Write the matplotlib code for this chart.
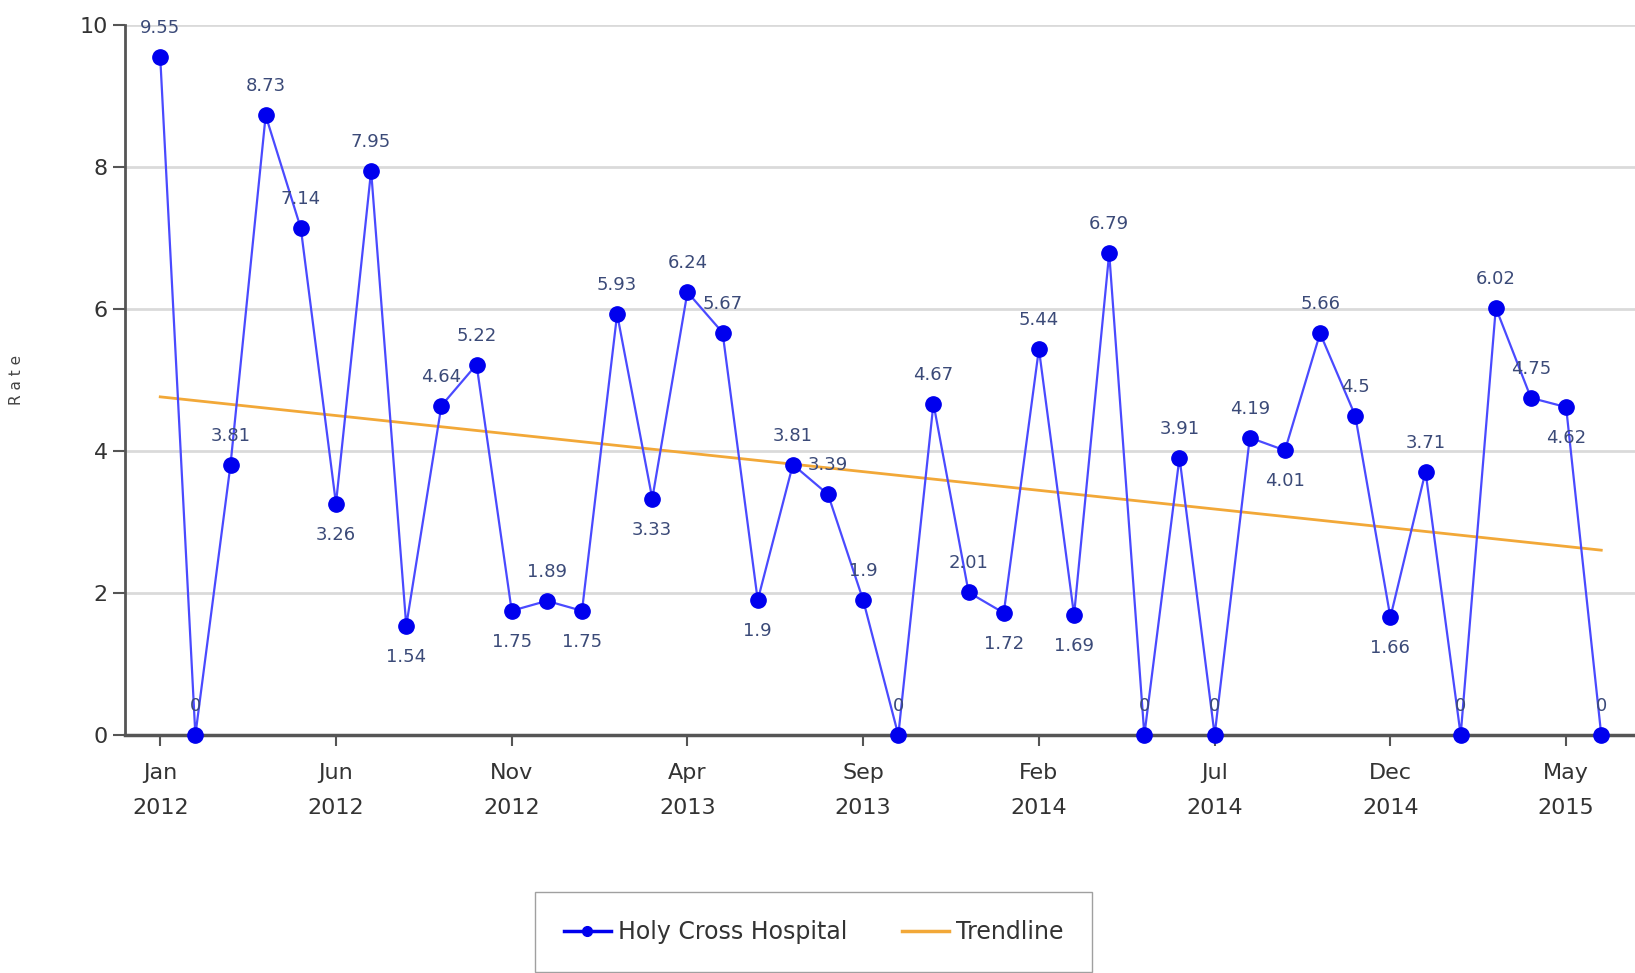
import numpy as np
import matplotlib.pyplot as plt
from matplotlib.lines import Line2D

# monthly rates, Jan 2012 - Jun 2015
rates = [9.55, 0, 3.81, 8.73, 7.14, 3.26, 7.95, 1.54, 4.64, 5.22,
         1.75, 1.89, 1.75, 5.93, 3.33, 6.24, 5.67, 1.9, 3.81, 3.39,
         1.9, 0, 4.67, 2.01, 1.72, 5.44, 1.69, 6.79, 0, 3.91,
         0, 4.19, 4.01, 5.66, 4.5, 1.66, 3.71, 0, 6.02, 4.75,
         4.62, 0]
# data labels drawn under the point
below = [5, 7, 10, 12, 14, 17, 24, 26, 32, 35, 40]
tick_pos = [0, 5, 10, 15, 20, 25, 30, 35, 40]
tick_labels = ['Jan\n2012', 'Jun\n2012', 'Nov\n2012', 'Apr\n2013', 'Sep\n2013',
               'Feb\n2014', 'Jul\n2014', 'Dec\n2014', 'May\n2015']

x = np.arange(len(rates))
y = np.array(rates)
slope, icept = np.polyfit(x, y, 1)
trend = slope * x + icept

fig = plt.figure(figsize=(16.35, 9.73), dpi=100)
ax = fig.add_axes([0.0765, 0.2446, 0.9235, 0.7294])

ax.plot(x, trend, color='#f2a838', lw=2, zorder=2)
ax.plot(x, y, color='#4a4aff', lw=1.6, marker='o', markersize=11,
        markerfacecolor='#0000ee', markeredgecolor='#0000ee', zorder=3,
        clip_on=False)

for i, v in enumerate(rates):
    lab = '{:g}'.format(v)
    if i in below:
        ax.annotate(lab, (i, v), xytext=(0, -31), textcoords='offset pixels',
                    ha='center', va='center', fontsize=13, color='#3b4a78')
    else:
        ax.annotate(lab, (i, v), xytext=(0, 29), textcoords='offset pixels',
                    ha='center', va='center', fontsize=13, color='#3b4a78')

ax.set_xlim(-1.0, 41.96)
ax.set_ylim(0, 10)
ax.set_yticks([0, 2, 4, 6, 8, 10])
ax.set_xticks(tick_pos)
ax.set_xticklabels(tick_labels, fontsize=16, color='#333333', linespacing=1.95)
ax.tick_params(axis='y', labelsize=16, labelcolor='#333333', length=9,
               width=1.5, color='#555555')
ax.tick_params(axis='x', length=8, width=1.5, color='#555555', pad=12)
ax.grid(axis='y', color='#dadada', lw=2)
ax.set_axisbelow(True)
for s in ['top', 'right']:
    ax.spines[s].set_visible(False)
ax.spines['left'].set_color('#555555')
ax.spines['left'].set_linewidth(2)
ax.spines['bottom'].set_color('#555555')
ax.spines['bottom'].set_linewidth(2.5)
ax.set_ylabel('R a t e', fontsize=11, color='#444444', labelpad=40)

handles = [Line2D([], [], color='#0000ee', lw=2.5, marker='o', markersize=7),
           Line2D([], [], color='#f2a838', lw=2.5)]
leg = fig.legend(handles, ['Holy Cross Hospital', 'Trendline'], ncol=2,
                 loc='center', bbox_to_anchor=(0.4975, 0.042), fontsize=17,
                 frameon=True, fancybox=False, edgecolor='#888888',
                 handlelength=2.0, handletextpad=0.3, columnspacing=2.3,
                 borderpad=1.2, borderaxespad=0.5)
for t in leg.get_texts():
    t.set_color('#333333')

fig.savefig('out.png', dpi=100)
